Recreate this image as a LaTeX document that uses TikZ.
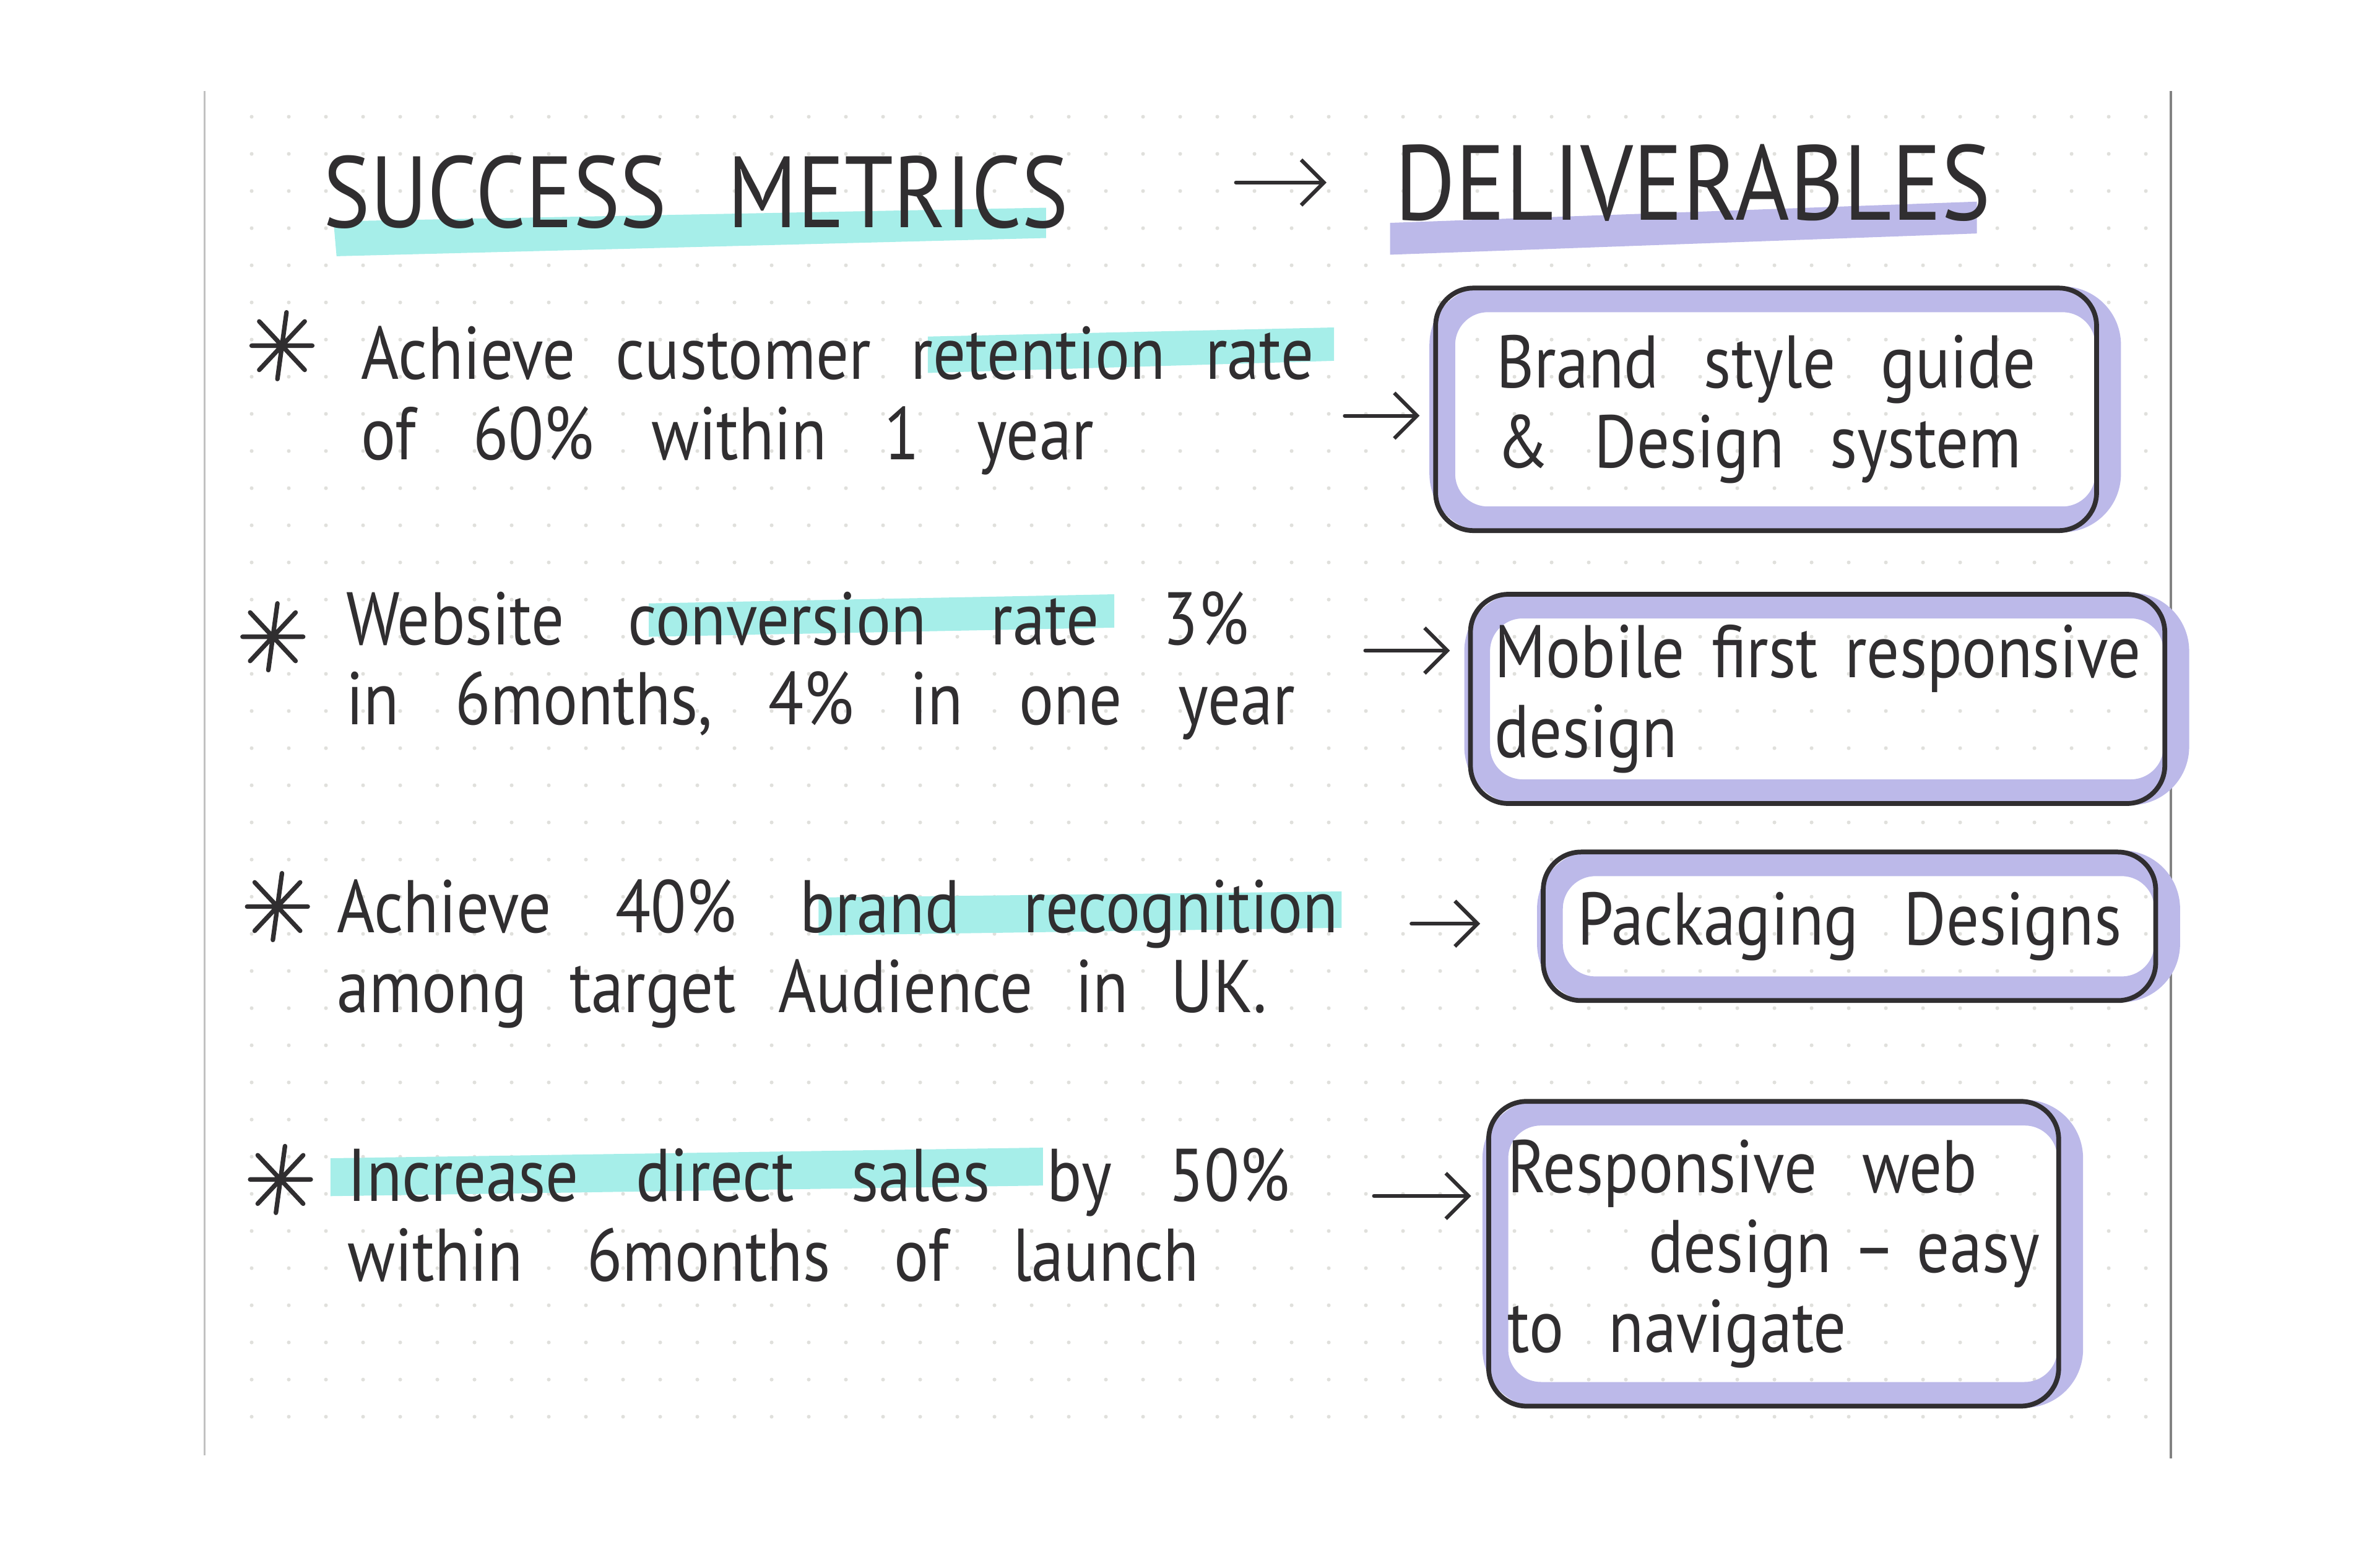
\documentclass[tikz,border=0pt]{standalone}
\usepackage{fontspec}
\setmainfont{PT Sans}[FakeStretch=0.87, WordSpace=2.6]
\usetikzlibrary{positioning,arrows.meta,calc,backgrounds}
\definecolor{skInk}{RGB}{48,46,48}
\definecolor{skCyan}{RGB}{166,238,233}
\definecolor{skLav}{RGB}{188,185,233}
\definecolor{skDot}{RGB}{224,224,220}
\definecolor{skEdge}{RGB}{130,130,130}
\newcommand{\wsp}[1]{\spaceskip=#1\relax}
\tikzset{
    base/.style={text=skInk, inner sep=0pt},
    heading/.style={base, font=\fontsize{38}{40}\selectfont, anchor=base west},
    metric/.style={base, align=left, anchor=base west, font=\fontsize{28}{30}\selectfont},
    deliv/.style={base, align=left, draw=skInk, line width=1.8pt, rounded corners=5mm,
                  font=\fontsize{28}{30}\selectfont},
    band/.style={draw=skLav, line width=3.4mm, rounded corners=6mm},
    marker/.style={fill=skCyan},
    lavmarker/.style={fill=skLav},
    flow/.style={-{Straight Barb[length=3mm,width=6mm]}, line width=1.4pt, draw=skInk, line cap=round},
    bullet/.style={draw=skInk, line width=1.7pt, line cap=round}
}
\begin{document}
\begin{tikzpicture}[x=0.2mm, y=-0.2mm]
  \useasboundingbox (0,0) rectangle (1568,1034);

  % headings
  \node[heading] (h1) at (213,150) {SUCCESS METRICS};
  \node[heading, font=\fontsize{40}{42}\selectfont] (h2) at (920,145) {DELIVERABLES};
  \draw[flow, shorten <=22mm, shorten >=9mm] (h1.east |- h2.west) -- (h2.west);

  % metrics (anchored on the second line)
  \node[metric] (m1) at (238,303) {{\wsp{15pt}Achieve customer retention rate}\\{\wsp{21.5pt}of 60\% within 1 year}};
  \node[metric] (m2) at (228,478) {{\wsp{24pt}Website conversion rate 3\%}\\{\wsp{21pt}in 6months, 4\% in one year}};
  \node[metric] (m3) at (222,668) {{\wsp{24pt}Achieve 40\% brand recognition}\\{\wsp{16pt}among target Audience in UK.}};
  \node[metric] (m4) at (229,845) {{\wsp{21.5pt}Increase direct sales by 50\%}\\{\wsp{24pt}within 6months of launch}};

  \foreach \bx/\by in {186/228, 180/420, 183/598, 185/778}
    \draw[bullet] (\bx-20,\by) -- (\bx+20,\by)
                  (\bx+3,\by-22) -- (\bx-3,\by+22)
                  (\bx-15,\by-16) -- (\bx+15,\by+16)
                  (\bx+15,\by-16) -- (\bx-15,\by+16);

  % deliverables
  \node[deliv, minimum width=87.2mm, minimum height=32mm] (b1) at (1165,270) {Brand style guide\\\& Design system};
  \node[deliv, minimum width=91.6mm, minimum height=27.6mm] (b2) at (1199,461) {{\wsp{10pt}Mobile first responsive}\\design};
  \node[deliv, minimum width=80.8mm, minimum height=19.6mm] (b3) at (1220,611) {Packaging Designs};
  \node[deliv, minimum width=75.2mm, minimum height=40.2mm] (b4) at (1170,827) {Responsive web\\{\wsp{8pt}\hspace*{18.6mm}design – easy}\\to navigate};

  \coordinate (t1) at ([yshift=-2mm]m1.east);
  \coordinate (t2) at ([yshift=2mm]m2.east);
  \coordinate (t3) at ([yshift=4mm]m3.east);
  \coordinate (t4) at ([yshift=2.5mm]m4.east);
  \foreach \i/\s/\e in {1/4mm/1.8mm, 2/9.2mm/2.4mm, 3/9.6mm/8mm, 4/11mm/2mm}
    \draw[flow, shorten <=\s, shorten >=\e] (t\i) -- (t\i -| b\i.west);

  \begin{scope}[on background layer]
    \foreach \gx in {0,...,51}
      \foreach \gy in {0,...,35}
        \fill[skDot] (166+24.5*\gx, 77+24.5*\gy) circle (0.25mm);
    \draw[skEdge!50, line width=0.6pt] (135,60) -- (135,960);
    \draw[skEdge, line width=1pt] (1432,60) -- (1432,962);

    % highlighter strokes
    \fill[marker] (220,146) -- (690,137) -- (690,157) -- (222,169) -- cycle;
    \fill[lavmarker] (917,147) -- (1304,133) -- (1304,154) -- (917,168) -- cycle;
    \fill[marker] (612,222) -- (880,216) -- (880,238) -- (612,246) -- cycle;
    \fill[marker] (428,398) -- (735,392) -- (735,414) -- (428,420) -- cycle;
    \fill[marker] (540,592) -- (885,588) -- (885,612) -- (540,617) -- cycle;
    \fill[marker] (218,764) -- (688,757) -- (688,782) -- (218,789) -- cycle;

    \foreach \i in {1,...,4}
      \draw[band] ([shift={(6,9)}]b\i.north west) rectangle ([shift={(6,-9)}]b\i.south east);
  \end{scope}
\end{tikzpicture}
\end{document}
